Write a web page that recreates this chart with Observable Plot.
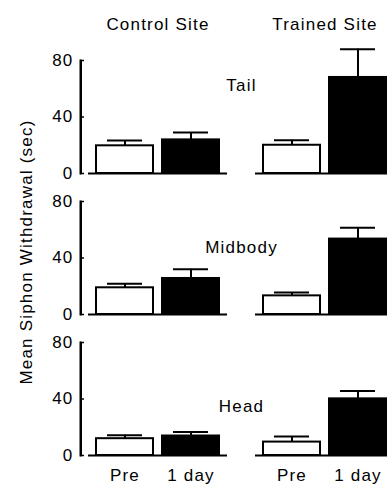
<!DOCTYPE html>
<html><head><meta charset="utf-8">
<script src="https://cdn.jsdelivr.net/npm/d3@7"></script>
<script src="https://cdn.jsdelivr.net/npm/@observablehq/plot@0.6"></script>
<style>
html, body {margin:0; padding:0; background:#fff; overflow:hidden;}
</style></head><body><div id="chart"></div>
<script>
const regions = ["Tail", "Midbody", "Head"];
const sites = ["Control Site", "Trained Site"];
const phases = ["Pre", "1 day"];
const yTicks = [0, 40, 80];
const yLabel = "Mean Siphon Withdrawal (sec)";

// Means and upper error (SEM) per region, in order Tail, Midbody, Head
const controlPreMean = [19.6, 18.9, 11.9];
const controlPreErr  = [3.7, 2.8, 2.4];
const controlDayMean = [23.8, 25.5, 13.8];
const controlDayErr  = [5.2, 6.5, 2.8];
const trainedPreMean = [20.0, 13.2, 9.5];
const trainedPreErr  = [3.5, 2.4, 4.0];
const trainedDayMean = [68.0, 53.4, 40.1];
const trainedDayErr  = [20.0, 8.1, 5.5];

const series = [
  {site: sites[0], phase: phases[0], mean: controlPreMean, err: controlPreErr},
  {site: sites[0], phase: phases[1], mean: controlDayMean, err: controlDayErr},
  {site: sites[1], phase: phases[0], mean: trainedPreMean, err: trainedPreErr},
  {site: sites[1], phase: phases[1], mean: trainedDayMean, err: trainedDayErr}
];
const rows = regions.flatMap((region, i) => series.map(s => ({
  region, site: s.site, phase: s.phase, mean: s.mean[i], err: s.err[i]
})));
const labelRows = regions.map((region, i) => ({region, site: sites[1], anchor: trainedDayMean[i]}));
const axisRows = regions.map(region => ({region, site: sites[0]}));

const chart = Plot.plot({
  width: 387, height: 488,
  marginLeft: 79, marginRight: -8, marginTop: 59, marginBottom: 31,
  style: {fontFamily: '"Liberation Sans", Arial, sans-serif', fontSize: "17px", letterSpacing: "1.2px", maxWidth: "none"},
  x: {domain: phases, paddingInner: 0.134, paddingOuter: 0.172, align: 0.652},
  y: {domain: [0, 80]},
  fx: {domain: sites, paddingInner: 0.119, paddingOuter: 0},
  fy: {domain: regions, paddingInner: 0.197, paddingOuter: 0, axis: null},
  color: {domain: phases, range: ["white", "black"]},
  marks: [
    Plot.ruleX(axisRows, {x: () => phases[0], y1: 0, y2: yTicks[2], fx: "site", fy: "region", dx: -44, stroke: "black", strokeWidth: 2}),
    Plot.frame({anchor: "left", fx: [sites[0]], stroke: "black", strokeWidth: 2}),
    Plot.axisY({ticks: yTicks, tickSize: -4, tickPadding: 11, label: null, stroke: "black", strokeWidth: 1.5}),
    Plot.axisX({label: null, tickSize: 0, tickPadding: 13}),
    Plot.axisFx({anchor: "top", label: null, tickSize: 0, tickPadding: 31, dx: 4}),
    Plot.ruleY([0], {stroke: "black", strokeWidth: 2, insetLeft: 8}),
    Plot.barY(rows, {x: "phase", y: "mean", fx: "site", fy: "region", fill: "phase", stroke: "black", strokeWidth: 2}),
    Plot.ruleX(rows, {x: "phase", y1: "mean", y2: d => d.mean + d.err, fx: "site", fy: "region", stroke: "black", strokeWidth: 2}),
    Plot.tickY(rows, {x: "phase", y: d => d.mean + d.err, fx: "site", fy: "region", stroke: "black", strokeWidth: 2, insetLeft: 11, insetRight: 11}),
    Plot.text(labelRows, {text: "region", y: "anchor", fx: "site", fy: "region", frameAnchor: "left", textAnchor: "middle", dx: -6, dy: 8}),
    Plot.text([yLabel], {text: d => d, fx: () => sites[0], fy: () => regions[1], frameAnchor: "left", rotate: -90, textAnchor: "middle", dx: -54, dy: -6})
  ]
});
document.getElementById("chart").appendChild(chart);
</script>
</body></html>
